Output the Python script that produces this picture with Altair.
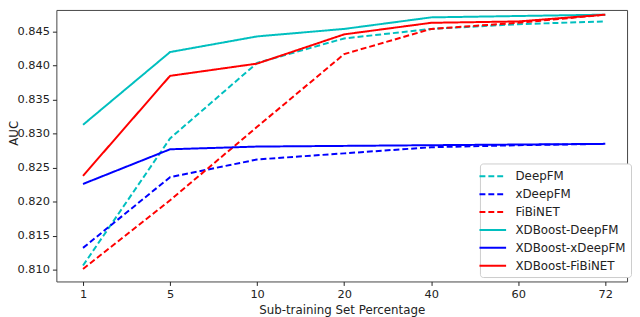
import json
import altair as alt
import pandas as pd

x_labels = ["1", "5", "10", "20", "40", "60", "72"]
series = ["DeepFM", "xDeepFM", "FiBiNET", "XDBoost-DeepFM", "XDBoost-xDeepFM", "XDBoost-FiBiNET"]
deepfm = [0.8106, 0.8293, 0.8404, 0.8440, 0.8454, 0.8461, 0.8465]
xdeepfm = [0.8132, 0.8236, 0.8262, 0.8271, 0.8280, 0.8283, 0.8285]
fibinet = [0.8101, 0.8202, 0.8310, 0.8417, 0.8454, 0.8463, 0.8475]
xd_deepfm = [0.8313, 0.8420, 0.8443, 0.8454, 0.8471, 0.8473, 0.8475]
xd_xdeepfm = [0.8226, 0.8277, 0.8281, 0.8282, 0.8283, 0.8284, 0.8285]
xd_fibinet = [0.8238, 0.8385, 0.8403, 0.8446, 0.8463, 0.8465, 0.8475]
colors = ["#00BFBF", "#0000FF", "#FF0000", "#00BFBF", "#0000FF", "#FF0000"]
dashes = [[6, 3], [6, 3], [6, 3], [1, 0], [1, 0], [1, 0]]

values = [deepfm, xdeepfm, fibinet, xd_deepfm, xd_xdeepfm, xd_fibinet]
rows = []
for s_i, (name, vals) in enumerate(zip(series, values)):
    for i, v in enumerate(vals):
        rows.append({"series": name, "order": s_i, "idx": i, "auc": v})
df = pd.DataFrame(rows)

label_expr = json.dumps(x_labels) + "[datum.value]"
font = "DejaVu Sans"

chart = alt.Chart(df).mark_line(strokeWidth=2).encode(
    x=alt.X("idx:Q",
            scale=alt.Scale(domain=[-0.306, 6.25], nice=False, zero=False),
            axis=alt.Axis(values=list(range(len(x_labels))), labelExpr=label_expr,
                          title="Sub-training Set Percentage", grid=False,
                          tickSize=4, labelPadding=3, titlePadding=5)),
    y=alt.Y("auc:Q",
            scale=alt.Scale(domain=[0.80826, 0.84819], nice=False, zero=False),
            axis=alt.Axis(values=[0.810, 0.815, 0.820, 0.825, 0.830, 0.835, 0.840, 0.845],
                          format=".3f", title="AUC", grid=False, tickSize=4,
                          labelPadding=3, titleX=-36, titleY=124.5)),
    color=alt.Color("series:N", scale=alt.Scale(domain=series, range=colors),
                    legend=alt.Legend(title=None, orient="none", legendX=429, legendY=155.5)),
    strokeDash=alt.StrokeDash("series:N", scale=alt.Scale(domain=series, range=dashes),
                              legend=alt.Legend(title=None, orient="none", legendX=429, legendY=155.5)),
    detail="series:N",
    order="order:Q",
).properties(
    width=578, height=275,
    autosize=alt.AutoSizeParams(type="none"),
    padding={"left": 49, "top": 0, "right": 5, "bottom": 34},
).configure_view(
    stroke="#444", strokeWidth=1
).configure_axis(
    domain=False, tickColor="#222", labelColor="#222", titleColor="#222",
    labelFont=font, titleFont=font, labelFontSize=11.5, titleFontSize=12,
    titleFontWeight="normal",
).configure_legend(
    labelFont=font, labelFontSize=12, labelColor="#222",
    symbolType="M-2,0H2", symbolSize=182, symbolStrokeWidth=2,
    labelOffset=15, padding=5, rowPadding=4.1,
    strokeColor="#ccc", fillColor="white", cornerRadius=3,
)

chart.save("out.html", embed_options={"renderer": "svg", "actions": False})
